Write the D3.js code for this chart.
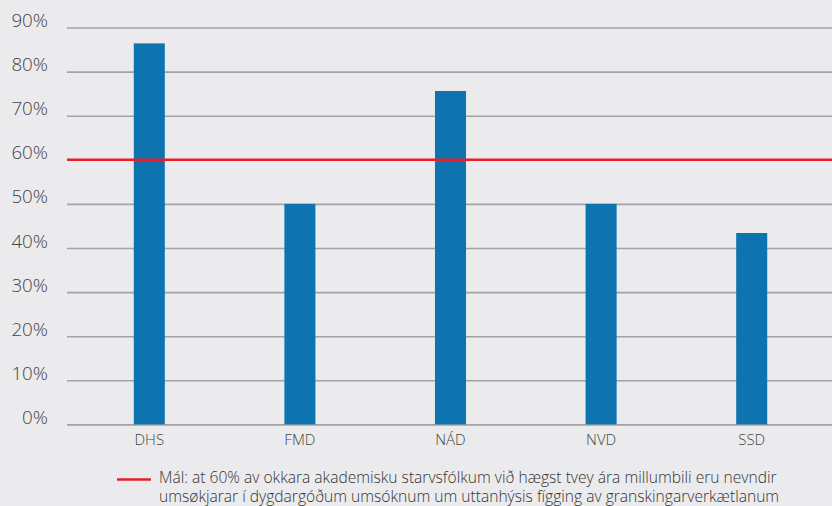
<!DOCTYPE html>
<html><head><meta charset="utf-8">
<script src="https://cdn.jsdelivr.net/npm/d3@7"></script>
<style>
html,body{margin:0;padding:0;background:#ebebed;}
svg{display:block;font-family:"Open Sans",sans-serif;}
</style></head>
<body>
<svg id="chart" width="832" height="506"></svg>
<script>
const categories = ["DHS","FMD","NÁD","NVD","SSD"];
const values = [86.4, 50, 75.6, 50, 43.4];
const targetValue = 60;
const yTicks = [0,10,20,30,40,50,60,70,80,90];
const legendLines = [
  "Mál: at 60% av okkara akademisku starvsfólkum við hægst tvey ára millumbili eru nevndir",
  "umsøkjarar í dygdargóðum umsóknum um uttanhýsis fígging av granskingarverkætlanum"
];

const svg = d3.select("#chart");
const plotLeft = 67, plotRight = 832;
const y = d3.scaleLinear().domain([0, 90]).range([424.4, 27.5]);
const x = d3.scaleBand().domain(categories).range([74, 827]).paddingInner(0.794).paddingOuter(0.397);

// gridlines
const yAxis = d3.axisLeft(y).tickValues(yTicks).tickFormat(d => d + "%").tickSize(-(plotRight - plotLeft)).tickPadding(19);
const gy = svg.append("g").attr("transform", `translate(${plotLeft},0)`).call(yAxis);
gy.select(".domain").remove();
gy.selectAll(".tick line").attr("stroke", "#a3a3a5").attr("stroke-width", 1.6);
gy.selectAll(".tick text").attr("fill", "#444").attr("font-size", 18.8).attr("font-weight", 300)
  .attr("font-family", "'Open Sans',sans-serif").attr("dy", "-0.05em");

// bars
svg.append("g").selectAll("rect").data(values).join("rect")
  .attr("x", (d,i) => x(categories[i]))
  .attr("width", x.bandwidth())
  .attr("y", d => y(d))
  .attr("height", d => y(0) - y(d))
  .attr("fill", "#0e74af");

// target line
svg.append("line")
  .attr("x1", plotLeft).attr("x2", plotRight)
  .attr("y1", y(targetValue)).attr("y2", y(targetValue))
  .attr("stroke", "#e6202b").attr("stroke-width", 2.6);

// x labels
const xAxis = d3.axisBottom(x).tickSize(0).tickPadding(10);
const gx = svg.append("g").attr("transform", `translate(0,${y(0)})`).call(xAxis);
gx.select(".domain").remove();
gx.selectAll(".tick text").attr("fill", "#444").attr("font-size", 15).attr("font-weight", 300)
  .attr("font-family", "'Open Sans',sans-serif");

// legend
const lg = svg.append("g");
lg.append("line").attr("x1", 117).attr("x2", 151).attr("y1", 479.5).attr("y2", 479.5)
  .attr("stroke", "#e6202b").attr("stroke-width", 2.6);
lg.selectAll("text").data(legendLines).join("text")
  .attr("x", 159).attr("y", (d,i) => 483 + i * 19)
  .attr("fill", "#333").attr("font-size", 15.6).attr("font-weight", 300)
  .text(d => d);
</script>
</body></html>
